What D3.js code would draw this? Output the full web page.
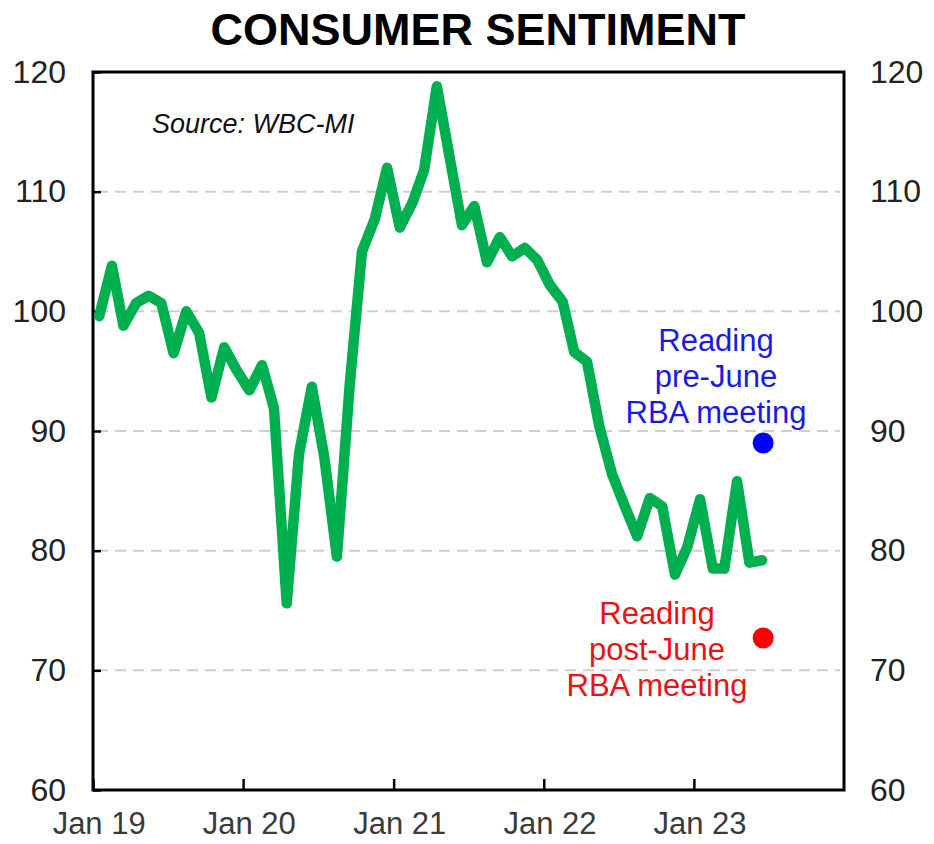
<!DOCTYPE html>
<html>
<head>
<meta charset="utf-8">
<script src="https://cdn.jsdelivr.net/npm/d3@7/dist/d3.min.js"></script>
<style>
  html, body { margin: 0; padding: 0; background: #fff; }
  svg { display: block; font-family: "Liberation Sans", Arial, sans-serif; }
</style>
</head>
<body>
<svg id="chart" width="934" height="844"></svg>
<script>
// Westpac-Melbourne Institute consumer sentiment index, monthly
const months = [
  "2019-01","2019-02","2019-03","2019-04","2019-05","2019-06","2019-07","2019-08","2019-09","2019-10","2019-11","2019-12",
  "2020-01","2020-02","2020-03","2020-04","2020-05","2020-06","2020-07","2020-08","2020-09","2020-10","2020-11","2020-12",
  "2021-01","2021-02","2021-03","2021-04","2021-05","2021-06","2021-07","2021-08","2021-09","2021-10","2021-11","2021-12",
  "2022-01","2022-02","2022-03","2022-04","2022-05","2022-06","2022-07","2022-08","2022-09","2022-10","2022-11","2022-12",
  "2023-01","2023-02","2023-03","2023-04","2023-05","2023-06"
];
const sentiment = [
  99.6, 103.8, 98.8, 100.7, 101.3, 100.7, 96.5, 100.0, 98.2, 92.8, 97.0, 95.1,
  93.4, 95.5, 91.9, 75.6, 88.1, 93.7, 87.9, 79.5, 93.8, 105.0, 107.7, 112.0,
  107.0, 109.1, 111.8, 118.8, 113.1, 107.2, 108.8, 104.1, 106.2, 104.6, 105.3, 104.3,
  102.2, 100.8, 96.6, 95.8, 90.4, 86.4, 83.8, 81.2, 84.4, 83.7, 78.0, 80.3,
  84.3, 78.5, 78.5, 85.8, 79.0, 79.2
];

// June 2023 split readings around the RBA meeting
const splitMonth = "2023-06";
const splitLabels = ["pre", "post"];
const splitValues = [89.0, 72.7];

const yTicks = [60, 70, 80, 90, 100, 110, 120];
const gridValues = [70, 80, 90, 100, 110];
const xTickYears = [2019, 2020, 2021, 2022, 2023];
const xTickLabels = ["Jan 19", "Jan 20", "Jan 21", "Jan 22", "Jan 23"];

const svg = d3.select("#chart");
const plotL = 93, plotR = 844, plotT = 72, plotB = 790;

const parseMonth = d3.timeParse("%Y-%m");
// monthly observations sit in the middle of their month
const mid = s => { const d = parseMonth(s); return new Date(d.getFullYear(), d.getMonth(), 16); };

const x = d3.scaleTime()
  .domain([new Date(2019, 0, 1), new Date(2024, 0, 1)])
  .range([plotL, plotR]);
const y = d3.scaleLinear().domain([60, 120]).range([plotB, plotT]);

const series = months.map((m, i) => ({ date: mid(m), value: sentiment[i] }));

// Title
svg.append("text")
  .attr("x", 478).attr("y", 45)
  .attr("text-anchor", "middle")
  .attr("font-size", 45).attr("font-weight", "bold")
  .attr("fill", "#000")
  .text("CONSUMER SENTIMENT");

// Dashed gridlines
svg.append("g").selectAll("line").data(gridValues).join("line")
  .attr("x1", plotL + 4).attr("x2", plotR - 4)
  .attr("y1", d => y(d)).attr("y2", d => y(d))
  .attr("stroke", "#cfcfcf").attr("stroke-width", 2)
  .attr("stroke-dasharray", "11,7");

// Left axis labels and inward ticks
const yLeft = svg.append("g").attr("transform", `translate(${plotL},0)`)
  .call(d3.axisLeft(y).tickValues(yTicks).tickSize(-8).tickPadding(27).tickFormat(d3.format("d")));
yLeft.select(".domain").remove();
yLeft.selectAll(".tick line").attr("stroke", "#000").attr("stroke-width", 2.5);
yLeft.selectAll("text").attr("font-size", 32).attr("fill", "#222")
  .attr("font-family", "Liberation Sans, Arial, sans-serif");

// Right axis labels
const yRight = svg.append("g").attr("transform", `translate(${plotR},0)`)
  .call(d3.axisRight(y).tickValues(yTicks).tickSize(0).tickPadding(26).tickFormat(d3.format("d")));
yRight.select(".domain").remove();
yRight.selectAll("text").attr("font-size", 32).attr("fill", "#222")
  .attr("font-family", "Liberation Sans, Arial, sans-serif");

// Bottom ticks at the start of each year, pointing into the plot
const xAxis = svg.append("g").attr("transform", `translate(0,${plotB})`)
  .call(d3.axisBottom(x).tickValues(xTickYears.map(yr => new Date(yr, 0, 1))).tickSize(-11).tickFormat(""));
xAxis.select(".domain").remove();
xAxis.selectAll(".tick line").attr("stroke", "#000").attr("stroke-width", 2.5);

// Year labels centred on January
svg.append("g").selectAll("text").data(xTickYears).join("text")
  .attr("x", (d) => x(new Date(d, 0, 16)))
  .attr("y", 834)
  .attr("text-anchor", "middle")
  .attr("font-size", 31).attr("fill", "#3a3a3a")
  .text((d, i) => xTickLabels[i]);

// Plot frame
svg.append("rect")
  .attr("x", plotL).attr("y", plotT)
  .attr("width", plotR - plotL).attr("height", plotB - plotT)
  .attr("fill", "none").attr("stroke", "#000").attr("stroke-width", 3);

// Source note
svg.append("text")
  .attr("x", 152).attr("y", 133)
  .attr("font-size", 27).attr("font-style", "italic").attr("fill", "#111")
  .text("Source: WBC-MI");

// Sentiment line
svg.append("path")
  .datum(series)
  .attr("fill", "none")
  .attr("stroke", "#00b050")
  .attr("stroke-width", 10.5)
  .attr("stroke-linejoin", "round")
  .attr("stroke-linecap", "round")
  .attr("d", d3.line().x(d => x(d.date)).y(d => y(d.value)));

// Split readings
const dotColors = ["#0000ff", "#ff0000"];
const splitPts = splitValues.map((v, i) => ({ key: splitLabels[i], date: mid(splitMonth), value: v, color: dotColors[i] }));
svg.append("g").selectAll("circle").data(splitPts).join("circle")
  .attr("cx", d => x(d.date) + 1)
  .attr("cy", d => y(d.value))
  .attr("r", 10.5)
  .attr("fill", d => d.color);

// Annotations
const notes = [
  { lines: ["Reading", "pre-June", "RBA meeting"], cx: 716, y0: 351, color: "#1a1ae6" },
  { lines: ["Reading", "post-June", "RBA meeting"], cx: 657, y0: 624, color: "#ee1111" }
];
notes.forEach(n => {
  svg.append("g").selectAll("text").data(n.lines).join("text")
    .attr("x", n.cx)
    .attr("y", (d, i) => n.y0 + i * 36)
    .attr("text-anchor", "middle")
    .attr("font-size", 31)
    .attr("fill", n.color)
    .text(d => d);
});
</script>
</body>
</html>
